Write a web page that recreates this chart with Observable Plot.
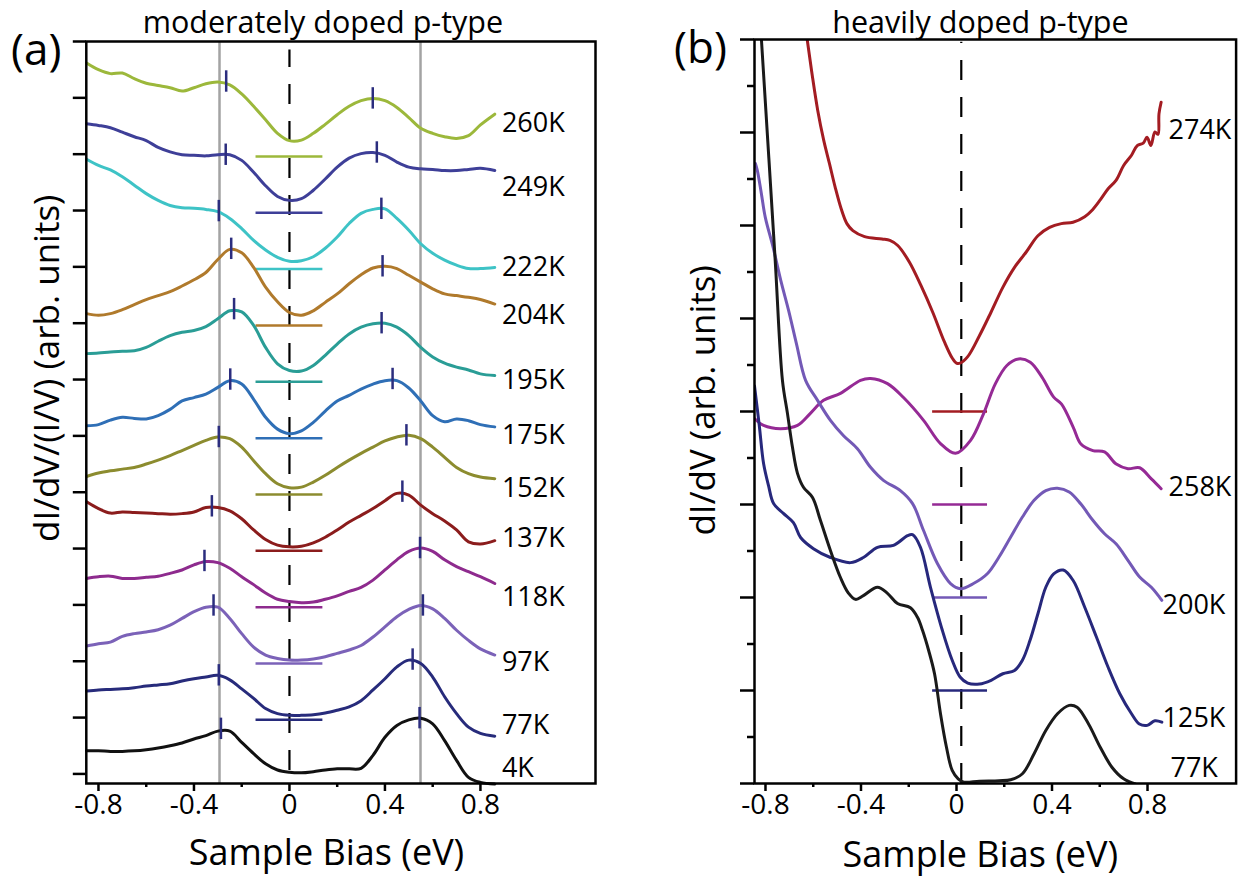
<!DOCTYPE html>
<html><head><meta charset="utf-8">
<script src="https://cdn.jsdelivr.net/npm/d3@7"></script>
<script src="https://cdn.jsdelivr.net/npm/@observablehq/plot@0.6"></script>
<style>
body{margin:0;background:#fff;}
#wrap{position:relative;width:1244px;height:880px;overflow:hidden;background:#fff;}
#wrap svg{position:absolute;top:0;}
</style></head><body><div id="wrap"></div>
<script>
// ---------- Panel (a): moderately doped p-type ----------
const biasA = [-0.85,-0.8,-0.75,-0.7,-0.65,-0.6,-0.55,-0.5,-0.45,-0.4,-0.35,-0.3,-0.25,-0.2,-0.15,-0.1,-0.05,0,0.05,0.1,0.15,0.2,0.25,0.3,0.35,0.4,0.45,0.5,0.55,0.6,0.65,0.7,0.75,0.8,0.86];
const tempsA = ["260K","249K","222K","204K","195K","175K","152K","137K","118K","97K","77K","4K"];
const offsetsA = [11,10,9,8,7,6,5,4,3,2,1,0];
const colorsA = ["#9cb83b","#3e3f98","#3ec3c6","#b07a2c","#2a9d96","#2f6fb6","#8c8c2f","#8b1c1c","#8e2b8e","#7b62b8","#272b7b","#111111"];
const a260 = [1.62,1.50,1.43,1.44,1.34,1.26,1.22,1.18,1.12,1.18,1.25,1.28,1.23,1.07,0.85,0.61,0.37,0.24,0.25,0.37,0.53,0.70,0.85,0.95,0.99,0.95,0.83,0.65,0.46,0.37,0.31,0.28,0.33,0.52,0.71];
const a249 = [1.54,1.51,1.47,1.39,1.31,1.24,1.12,1.04,0.99,0.98,0.97,0.99,0.99,0.89,0.68,0.44,0.25,0.18,0.21,0.36,0.56,0.77,0.93,1.01,1.03,0.98,0.86,0.77,0.74,0.73,0.71,0.71,0.73,0.75,0.71];
const a222 = [1.91,1.80,1.72,1.60,1.45,1.30,1.18,1.09,1.05,1.04,1.02,0.98,0.86,0.68,0.47,0.30,0.17,0.10,0.11,0.18,0.33,0.53,0.77,0.95,1.02,1.03,0.86,0.65,0.41,0.24,0.12,0.03,-0.03,-0.03,-0.01];
const a204 = [0.17,0.14,0.17,0.24,0.33,0.42,0.49,0.56,0.66,0.77,0.90,1.13,1.31,1.25,0.99,0.64,0.38,0.19,0.14,0.22,0.37,0.52,0.70,0.86,0.98,1.01,0.97,0.85,0.73,0.61,0.52,0.49,0.46,0.42,0.34];
const a195 = [0.46,0.47,0.49,0.50,0.51,0.57,0.68,0.78,0.84,0.87,0.94,1.08,1.22,1.20,0.96,0.57,0.28,0.16,0.15,0.25,0.43,0.63,0.81,0.93,0.99,1.00,0.93,0.78,0.57,0.40,0.29,0.22,0.17,0.10,0.07];
const a175 = [0.18,0.20,0.28,0.33,0.31,0.30,0.36,0.47,0.62,0.68,0.74,0.86,0.98,0.92,0.65,0.33,0.12,0.04,0.09,0.24,0.44,0.62,0.72,0.83,0.92,0.98,0.98,0.85,0.62,0.36,0.25,0.30,0.27,0.20,0.16];
const a152 = [0.28,0.34,0.38,0.41,0.44,0.50,0.57,0.65,0.74,0.83,0.92,0.98,0.95,0.80,0.56,0.33,0.15,0.08,0.09,0.18,0.30,0.44,0.57,0.69,0.80,0.91,0.98,1.01,0.95,0.80,0.62,0.44,0.33,0.27,0.24];
const a137 = [0.83,0.71,0.63,0.65,0.64,0.63,0.62,0.61,0.62,0.65,0.73,0.73,0.67,0.53,0.33,0.16,0.06,0.03,0.04,0.10,0.20,0.33,0.47,0.59,0.71,0.85,0.98,0.95,0.77,0.62,0.49,0.33,0.12,0.08,0.14];
const a118 = [0.47,0.50,0.51,0.47,0.47,0.49,0.51,0.56,0.62,0.71,0.77,0.75,0.65,0.50,0.36,0.21,0.10,0.06,0.04,0.05,0.10,0.16,0.24,0.31,0.44,0.62,0.80,0.95,1.01,0.95,0.80,0.68,0.59,0.50,0.38];
const a97  = [0.27,0.31,0.34,0.44,0.49,0.52,0.56,0.64,0.76,0.88,0.96,0.96,0.76,0.49,0.25,0.11,0.05,0.02,0.02,0.04,0.08,0.14,0.20,0.28,0.43,0.61,0.79,0.92,0.99,0.93,0.76,0.55,0.37,0.22,0.11];
const a77  = [0.47,0.49,0.50,0.51,0.53,0.56,0.58,0.60,0.65,0.69,0.72,0.75,0.67,0.51,0.34,0.16,0.07,0.04,0.04,0.05,0.08,0.13,0.19,0.30,0.49,0.69,0.90,1.02,0.96,0.72,0.37,0.07,-0.17,-0.28,-0.33];
const a4   = [0.41,0.41,0.40,0.40,0.41,0.43,0.46,0.50,0.55,0.62,0.68,0.76,0.76,0.56,0.36,0.18,0.07,0.03,0.02,0.04,0.07,0.09,0.09,0.10,0.33,0.65,0.86,0.96,0.99,0.89,0.59,0.24,-0.06,-0.15,-0.18];
const seriesA = [a260,a249,a222,a204,a195,a175,a152,a137,a118,a97,a77,a4];
// peak positions (eV) and heights (relative to each curve's offset)
const peakLeftXA  = [-0.265,-0.267,-0.296,-0.244,-0.232,-0.248,-0.296,-0.325,-0.356,-0.318,-0.296,-0.287];
const peakLeftYA  = [1.29,0.99,0.99,1.32,1.25,1.00,0.98,0.75,0.78,0.99,0.75,0.80];
const peakRightXA = [0.349,0.366,0.385,0.39,0.386,0.432,0.49,0.473,0.547,0.559,0.516,0.545];
const peakRightYA = [0.99,1.03,1.03,1.01,1.00,1.01,1.01,1.01,1.01,0.99,1.03,0.99];
const guideLinesA = [-0.293,0.549];
const labelYA = [11.55,10.41,9.0,8.14,6.99,6.01,5.07,4.18,3.14,1.98,0.86,0.09];
const majorTicksX = [-0.8,-0.4,0,0.4,0.8];
const minorTicksX = [-0.6,-0.2,0.2,0.6];

// ---------- Panel (b): heavily doped p-type ----------
const tempsB = ["274K","258K","200K","125K","77K"];
const offsetsB = [8,6,4,2,0];
const colorsB = ["#a31c22","#952a95","#7359b6","#27287c","#1a1a1a"];
const b274x = [-0.64,-0.625,-0.605,-0.581,-0.556,-0.532,-0.508,-0.483,-0.459,-0.434,-0.385,-0.312,-0.279,-0.246,-0.197,-0.149,-0.1,-0.05,-0.018,0.0,0.015,0.047,0.096,0.145,0.194,0.243,0.292,0.341,0.39,0.439,0.488,0.537,0.57,0.602,0.635,0.668,0.70,0.733,0.757,0.782,0.798,0.814,0.831,0.844,0.848,0.857];
const b274y = [8.6,7.99,7.26,6.47,5.83,5.33,4.82,4.36,4.04,3.89,3.76,3.71,3.68,3.57,3.21,2.71,2.14,1.49,1.15,1.04,1.04,1.18,1.63,2.14,2.67,3.10,3.43,3.78,3.96,4.04,4.07,4.19,4.34,4.55,4.79,4.97,5.29,5.51,5.72,5.77,5.90,5.72,6.01,5.96,6.40,6.65];
const b258x = [-0.846,-0.808,-0.737,-0.666,-0.612,-0.557,-0.486,-0.402,-0.36,-0.289,-0.222,-0.138,-0.067,-0.004,0.059,0.113,0.162,0.211,0.26,0.309,0.358,0.407,0.44,0.489,0.521,0.571,0.62,0.669,0.718,0.767,0.816,0.857];
const b258y = [1.85,1.70,1.63,1.70,1.96,2.24,2.39,2.67,2.71,2.60,2.30,1.81,1.31,1.10,1.38,1.95,2.59,2.99,3.13,3.06,2.74,2.31,2.16,1.66,1.30,1.16,1.13,0.87,0.77,0.79,0.55,0.34];
const b200x = [-0.842,-0.834,-0.817,-0.801,-0.768,-0.736,-0.703,-0.67,-0.632,-0.582,-0.528,-0.473,-0.415,-0.36,-0.306,-0.235,-0.184,-0.138,-0.08,-0.025,0.017,0.071,0.129,0.178,0.227,0.276,0.325,0.374,0.423,0.472,0.521,0.571,0.62,0.669,0.718,0.767,0.816,0.86];
const b200y = [9.33,9.18,8.68,8.18,7.53,6.82,6.17,5.45,4.67,4.24,3.81,3.48,3.20,2.80,2.52,2.30,2.02,1.44,0.73,0.30,0.19,0.30,0.51,0.87,1.30,1.73,2.09,2.30,2.35,2.27,2.01,1.66,1.37,1.15,0.80,0.44,0.22,-0.06];
const b125x = [-0.846,-0.826,-0.808,-0.787,-0.766,-0.725,-0.683,-0.653,-0.599,-0.528,-0.444,-0.39,-0.331,-0.264,-0.205,-0.184,-0.151,-0.109,-0.059,-0.018,0.015,0.047,0.096,0.145,0.194,0.243,0.276,0.308,0.341,0.374,0.407,0.447,0.488,0.537,0.586,0.635,0.684,0.733,0.766,0.799,0.831,0.86];
const b125y = [6.55,5.70,4.88,4.40,4.02,3.81,3.61,3.29,3.05,2.86,2.75,2.86,3.08,3.12,3.33,3.35,3.08,2.22,1.29,0.65,0.29,0.16,0.14,0.22,0.36,0.43,0.65,1.08,1.65,2.22,2.51,2.59,2.37,1.79,1.15,0.50,-0.07,-0.50,-0.72,-0.75,-0.65,-0.68];
const b77x = [-0.834,-0.817,-0.76,-0.729,-0.708,-0.687,-0.666,-0.641,-0.603,-0.57,-0.528,-0.486,-0.452,-0.423,-0.39,-0.331,-0.289,-0.247,-0.193,-0.163,-0.142,-0.116,-0.092,-0.067,-0.042,-0.018,0.007,0.031,0.096,0.178,0.227,0.276,0.325,0.374,0.423,0.472,0.505,0.553,0.602,0.651,0.70,0.749];
const b77y = [17.4,16.0,11.31,8.67,7.96,7.23,6.67,6.37,6.15,5.66,5.01,4.43,4.09,3.96,4.04,4.22,4.09,3.87,3.78,3.57,3.29,2.85,2.36,1.50,0.78,0.28,0.10,0.03,0.05,0.06,0.08,0.21,0.64,1.14,1.50,1.68,1.64,1.28,0.78,0.35,0.10,-0.01];
const seriesBX = [b274x,b258x,b200x,b125x,b77x];
const seriesBY = [b274y,b258y,b200y,b125y,b77y];
const labelYB = [14.04,6.37,3.83,1.40,0.32];
const labelXB = [0.888,0.888,0.863,0.863,0.896];

// ---------- build tables ----------
const rowsA = [];
tempsA.forEach((t,i) => seriesA[i].forEach((v,j) => rowsA.push({T:t, x:biasA[j], y:offsetsA[i]+v})));
const peaksA = [];
tempsA.forEach((t,i) => {
  peaksA.push({x:peakLeftXA[i], y:offsetsA[i]+peakLeftYA[i]});
  peaksA.push({x:peakRightXA[i], y:offsetsA[i]+peakRightYA[i]});
});
const segsA = tempsA.slice(0,11).map((t,i) => ({T:t, y:offsetsA[i]-0.04}));
const labelsA = tempsA.map((t,i) => ({T:t, y:labelYA[i]}));

const rowsB = [];
tempsB.forEach((t,i) => seriesBX[i].forEach((x,j) => rowsB.push({T:t, x, y:offsetsB[i]+seriesBY[i][j]})));
const segsB = tempsB.slice(0,4).map((t,i) => ({T:t, y:offsetsB[i]}));
const labelsB = tempsB.map((t,i) => ({T:t, x:labelXB[i], y:labelYB[i]}));

const FONT = "'Open Sans', 'Noto Sans', sans-serif";
const baseStyle = {fontFamily: FONT, fontSize: "27px", color: "#000", background: "transparent", overflow: "visible"};
const DASH = "20,17";

const plotA = Plot.plot({
  width: 640, height: 880,
  marginLeft: 85.8, marginRight: 45, marginTop: 41, marginBottom: 97,
  x: {domain: [-0.851, 1.282]},
  y: {domain: [-0.17, 13.0]},
  color: {domain: tempsA, range: colorsA},
  style: baseStyle,
  marks: [
    Plot.ruleX(guideLinesA, {stroke: "#a3a3a3", strokeWidth: 2.5}),
    Plot.ruleX([0], {y1: 0.06, y2: 12.85, stroke: "#000", strokeWidth: 2.2, strokeDasharray: DASH}),
    Plot.ruleY(segsA, {y: "y", x1: () => -0.14, x2: () => 0.14, stroke: "T", strokeWidth: 2.5}),
    Plot.line(rowsA, {x: "x", y: "y", z: "T", stroke: "T", strokeWidth: 3, curve: "catmull-rom"}),
    Plot.ruleX(peaksA, {x: "x", y1: d => d.y - 0.19, y2: d => d.y + 0.19, stroke: "#2b2d7e", strokeWidth: 2.5}),
    Plot.text(labelsA, {x: () => 0.89, y: "y", text: "T", textAnchor: "start", fontSize: 27, fill: "#000"}),
    Plot.frame({stroke: "#000", strokeWidth: 2.5}),
    Plot.axisX(majorTicksX, {tickSize: 8, tickPadding: 3, tickFormat: d => String(d), label: null, fontSize: 28, strokeWidth: 2.5}),
    Plot.axisX(minorTicksX, {tickSize: 4, tickFormat: () => "", label: null, strokeWidth: 2.5}),
    Plot.axisY(d3.range(14), {tickSize: 13, tickFormat: () => "", label: null, strokeWidth: 2.5}),
    Plot.text(["(a)"], {frameAnchor: "top-left", dx: -50, dy: 9, fontSize: 44, text: d => d, textAnchor: "middle", lineAnchor: "middle"}),
    Plot.text(["moderately doped p-type"], {x: () => 0.14, frameAnchor: "top", dy: -9, fontSize: 30.5, text: d => d, textAnchor: "middle", lineAnchor: "bottom"}),
    Plot.text(["Sample Bias (eV)"], {x: () => 0.155, frameAnchor: "bottom", dy: 70, fontSize: 36, text: d => d, textAnchor: "middle", lineAnchor: "middle"}),
    Plot.text(["dI/dV/(I/V) (arb. units)"], {y: () => 7.2, frameAnchor: "left", dx: -39, rotate: -90, fontSize: 35, text: d => d, textAnchor: "middle", lineAnchor: "middle"})
  ]
});

const plotB = Plot.plot({
  width: 604, height: 880,
  marginLeft: 114, marginRight: 8.4, marginTop: 39, marginBottom: 97,
  x: {domain: [-0.846, 1.171]},
  y: {domain: [0, 16]},
  color: {domain: tempsB, range: colorsB},
  style: baseStyle,
  marks: [
    Plot.ruleX([0.02], {y1: 0, y2: 15.94, stroke: "#000", strokeWidth: 2.2, strokeDasharray: DASH}),
    Plot.ruleY(segsB, {y: "y", x1: () => -0.10, x2: () => 0.13, stroke: "T", strokeWidth: 2.5}),
    Plot.line(rowsB, {x: "x", y: "y", z: "T", stroke: "T", strokeWidth: 3, curve: "catmull-rom", clip: true}),
    Plot.text(labelsB, {x: "x", y: "y", text: "T", textAnchor: "start", fontSize: 27, fill: "#000"}),
    Plot.frame({stroke: "#000", strokeWidth: 2.5}),
    Plot.axisX(majorTicksX, {tickSize: 8, tickPadding: 3, tickFormat: d => String(d), label: null, fontSize: 28, strokeWidth: 2.5}),
    Plot.axisX(minorTicksX, {tickSize: 4, tickFormat: () => "", label: null, strokeWidth: 2.5}),
    Plot.axisY(d3.range(0, 17, 2), {tickSize: 14, tickFormat: () => "", label: null, strokeWidth: 2.5}),
    Plot.axisY(d3.range(1, 17, 2), {tickSize: 7, tickFormat: () => "", label: null, strokeWidth: 2.5}),
    Plot.text(["(b)"], {frameAnchor: "top-left", dx: -54, dy: 9, fontSize: 44, text: d => d, textAnchor: "middle", lineAnchor: "middle"}),
    Plot.text(["heavily doped p-type"], {x: () => 0.10, frameAnchor: "top", dy: -7, fontSize: 30.5, text: d => d, textAnchor: "middle", lineAnchor: "bottom"}),
    Plot.text(["Sample Bias (eV)"], {x: () => 0.10, frameAnchor: "bottom", dy: 72, fontSize: 36, text: d => d, textAnchor: "middle", lineAnchor: "middle"}),
    Plot.text(["dI/dV (arb. units)"], {y: () => 8.24, frameAnchor: "left", dx: -51, rotate: -90, fontSize: 35, text: d => d, textAnchor: "middle", lineAnchor: "middle"})
  ]
});

plotA.style.left = "0px";
plotB.style.left = "640px";
const wrap = document.getElementById("wrap");
wrap.appendChild(plotA);
wrap.appendChild(plotB);
</script>
</body></html>
